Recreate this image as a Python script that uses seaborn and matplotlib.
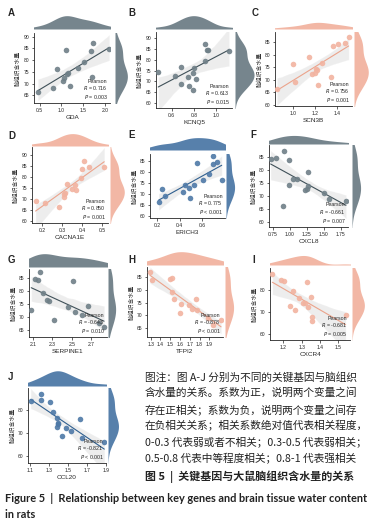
import matplotlib
matplotlib.use('Agg')
import matplotlib.pyplot as plt
import seaborn as sns

W, H = 383, 526

GRAY = '#6f7f87'
SALMON = '#f2b3a0'
BLUE = '#4e79a7'

# gene expression (x) vs brain tissue water content (y)
gda_x = [0.46, 0.81, 0.89, 1.04, 1.06, 1.10, 1.14, 1.16, 1.19, 1.39, 1.51, 1.68, 1.72, 1.70, 2.10]
gda_y = [66.2, 68.0, 76.3, 71.0, 72.2, 84.2, 73.9, 74.3, 68.9, 76.6, 79.3, 83.7, 87.2, 72.6, 84.6]

kcnq5_x = [0.48, 0.63, 0.683, 0.683, 0.748, 0.757, 0.787, 0.80, 0.793, 0.816, 0.896, 0.896, 0.92, 0.926, 1.113]
kcnq5_y = [74.3, 72.6, 76.6, 68.9, 72.2, 68.0, 73.9, 76.3, 66.2, 71.0, 87.2, 79.3, 84.2, 84.6, 83.7]

scn3b_x = [0.857, 1.0, 1.015, 1.149, 1.176, 1.20, 1.209, 1.215, 1.224, 1.26, 1.34, 1.364, 1.409, 1.469, 1.50]
scn3b_y = [66.2, 76.3, 68.9, 79.3, 72.2, 72.6, 74.3, 73.9, 68.0, 76.6, 71.0, 83.7, 84.2, 84.6, 87.2]

cacna1e_x = [0.168, 0.213, 0.285, 0.31, 0.312, 0.313, 0.324, 0.351, 0.367, 0.372, 0.396, 0.40, 0.409, 0.436, 0.511]
cacna1e_y = [68.9, 68.0, 66.2, 72.2, 71.0, 72.6, 76.6, 74.3, 76.3, 73.9, 79.3, 83.7, 87.2, 84.2, 84.6]

erich3_x = [0.215, 0.245, 0.27, 0.426, 0.45, 0.48, 0.49, 0.53, 0.552, 0.606, 0.657, 0.69, 0.696, 0.732, 0.771]
erich3_y = [66.2, 72.2, 68.9, 71.0, 73.9, 72.6, 68.0, 74.3, 84.2, 76.6, 79.3, 83.7, 87.2, 84.6, 76.3]

cxcl8_x = [0.72, 0.80, 0.917, 0.897, 0.99, 0.99, 1.054, 1.11, 1.225, 1.26, 1.265, 1.265, 1.505, 1.58, 1.83]
cxcl8_y = [84.2, 84.6, 87.2, 66.2, 83.7, 74.3, 76.6, 76.3, 72.2, 72.6, 73.9, 79.3, 71.0, 68.9, 68.0]

serpine1_x = [2.083, 2.124, 2.152, 2.176, 2.203, 2.245, 2.262, 2.314, 2.462, 2.507, 2.531, 2.60, 2.669, 2.779, 2.83]
serpine1_y = [72.6, 84.6, 84.2, 87.2, 79.3, 76.6, 76.3, 68.9, 73.9, 83.7, 72.2, 71.0, 74.3, 68.0, 66.2]

tfpi2_x = [1.293, 1.31, 1.503, 1.514, 1.52, 1.54, 1.605, 1.608, 1.69, 1.727, 1.761, 1.77, 1.886, 1.937, 2.02]
tfpi2_y = [87.2, 83.7, 84.2, 84.6, 79.3, 76.6, 71.0, 74.3, 73.9, 72.6, 76.3, 72.2, 68.9, 66.2, 68.0]

cxcr4_x = [1.14, 1.187, 1.205, 1.25, 1.236, 1.264, 1.287, 1.305, 1.318, 1.33, 1.336, 1.35, 1.355, 1.358, 1.54]
cxcr4_y = [87.2, 84.6, 84.2, 79.3, 72.6, 71.0, 76.3, 74.3, 73.9, 83.7, 72.2, 76.6, 68.0, 66.2, 68.9]

ccl20_x = [1.11, 1.223, 1.216, 1.31, 1.346, 1.388, 1.398, 1.398, 1.391, 1.44, 1.479, 1.528, 1.626, 1.644, 1.882]
ccl20_y = [84.2, 87.2, 84.6, 83.7, 79.3, 76.6, 74.3, 73.9, 72.6, 68.9, 72.2, 71.0, 76.3, 68.0, 66.2]

genes = ['GDA', 'KCNQ5', 'SCN3B', 'CACNA1E', 'ERICH3', 'CXCL8', 'SERPINE1', 'TFPI2', 'CXCR4', 'CCL20']
r_values = ['0.716', '0.613', '0.756', '0.850', '0.775', '-0.661', '-0.643', '-0.878', '-0.681', '-0.821']
p_values = ['= 0.003', '= 0.015', '= 0.001', '= 0.001', '< 0.001', '= 0.007', '= 0.010', '< 0.001', '= 0.005', '< 0.001']
xs = [gda_x, kcnq5_x, scn3b_x, cacna1e_x, erich3_x, cxcl8_x, serpine1_x, tfpi2_x, cxcr4_x, ccl20_x]
ys = [gda_y, kcnq5_y, scn3b_y, cacna1e_y, erich3_y, cxcl8_y, serpine1_y, tfpi2_y, cxcr4_y, ccl20_y]
colors = [GRAY, GRAY, SALMON, SALMON, BLUE, GRAY, GRAY, SALMON, SALMON, BLUE]
line_colors = {GRAY: '#3f5058', SALMON: '#eba38b', BLUE: '#2f5f8f'}

# layout in pixels: main (l, t, r, b), top marginal (t, b), right marginal (l, r), letter (x, y)
layout = [
    dict(main=(34, 33, 110, 103), top=(15, 29), right=(115, 128), letter=(8, 13),
         xlim=(0.37, 2.12), ylim=(61.7, 91.5), xticks=[0.5, 1.0, 1.5, 2.0], yticks=[65, 70, 75, 80, 85, 90]),
    dict(main=(156, 32, 232, 108), top=(15, 29), right=(235, 255), letter=(128, 13),
         xlim=(0.46, 1.14), ylim=(57.9, 92.6), xticks=[0.6, 0.8, 1.0], yticks=[60, 65, 70, 75, 80, 85, 90]),
    dict(main=(275, 32, 352, 106), top=(22, 29), right=(354, 369), letter=(252, 13),
         xlim=(0.84, 1.53), ylim=(59.4, 89.2), xticks=[1.0, 1.2, 1.4], yticks=[60, 65, 70, 75, 80, 85]),
    dict(main=(32, 147, 108, 223), top=(133, 146), right=(110, 125), letter=(8, 136),
         xlim=(0.15, 0.53), ylim=(59.0, 93.5), xticks=[0.2, 0.3, 0.4, 0.5], yticks=[60, 65, 70, 75, 80, 85, 90]),
    dict(main=(150, 154, 225, 218), top=(137, 150), right=(226, 235), letter=(128, 135),
         xlim=(0.14, 0.80), ylim=(59.0, 88.3), xticks=[0.2, 0.4, 0.6], yticks=[60, 65, 70, 75, 80, 85]),
    dict(main=(269, 145, 348, 227), top=(135, 144), right=(352, 361), letter=(250, 135),
         xlim=(0.696, 1.86), ylim=(58.2, 89.4), xticks=[0.75, 1.0, 1.25, 1.5, 1.75], yticks=[60, 65, 70, 75, 80, 85]),
    dict(main=(29, 269, 107, 337), top=(253, 267), right=(108, 116), letter=(8, 260),
         xlim=(2.06, 2.86), ylim=(62.5, 88.4), xticks=[2.1, 2.3, 2.5, 2.7], yticks=[65, 70, 75, 80, 85]),
    dict(main=(147, 267, 223, 337), top=(251, 265), right=(225, 234), letter=(128, 260),
         xlim=(1.263, 2.04), ylim=(61.5, 89.0), xticks=[1.3, 1.4, 1.5, 1.6, 1.7, 1.8, 1.9], yticks=[65, 70, 75, 80, 85]),
    dict(main=(270, 268, 350, 340), top=(255, 265), right=(352, 365), letter=(252, 260),
         xlim=(1.127, 1.564), ylim=(57.4, 89.9), xticks=[1.2, 1.3, 1.4, 1.5], yticks=[60, 70, 80]),
    dict(main=(28, 388, 106, 463), top=(370, 386), right=(108, 119), letter=(8, 377),
         xlim=(1.082, 1.90), ylim=(57.0, 89.8), xticks=[1.1, 1.3, 1.5, 1.7, 1.9], yticks=[60, 70, 80]),
]

sns.set_style('ticks')
plt.rcParams['font.family'] = ['Liberation Sans', 'Noto Sans CJK SC']
plt.rcParams['axes.linewidth'] = 0.6
plt.rcParams['xtick.major.width'] = 0.5
plt.rcParams['ytick.major.width'] = 0.5
plt.rcParams['xtick.major.size'] = 1.8
plt.rcParams['ytick.major.size'] = 1.8
plt.rcParams['xtick.major.pad'] = 1.5
plt.rcParams['ytick.major.pad'] = 1.5


def px_box(l, t, r, b):
    return [l / W, 1 - b / H, (r - l) / W, (b - t) / H]


fig = plt.figure(figsize=(W / 100, H / 100), dpi=100)

for i, lay in enumerate(layout):
    x, y, c = xs[i], ys[i], colors[i]
    l, t, r, b = lay['main']
    ax = fig.add_axes(px_box(l, t, r, b))
    ax_top = fig.add_axes(px_box(l, lay['top'][0], r, lay['top'][1]), sharex=ax)
    ax_right = fig.add_axes(px_box(lay['right'][0], t, lay['right'][1], b), sharey=ax)

    # grey confidence band, then coloured fit line, then points
    sns.regplot(x=x, y=y, ax=ax, scatter=False, color='#8a8a8a', line_kws={'lw': 0})
    sns.regplot(x=x, y=y, ax=ax, scatter=False, ci=None, line_kws={'color': line_colors[c], 'lw': 0.8})
    sns.scatterplot(x=x, y=y, ax=ax, color=c, s=16, alpha=0.9, linewidth=0, zorder=3)
    ax.set_xlim(*lay['xlim'])
    ax.set_ylim(*lay['ylim'])
    ax.set_xticks(lay['xticks'])
    ax.set_yticks(lay['yticks'])
    ax.tick_params(labelsize=3.6, colors='#222222')
    ax.set_xlabel(genes[i], fontsize=4.6, labelpad=2)
    ax.set_ylabel('脑组织含水量', fontsize=4.2, labelpad=2, color='#333333')
    sns.despine(ax=ax)
    ax.text(0.97, 0.03, f'Pearson\n$R$ = {r_values[i]}\n$P$ {p_values[i]}',
            transform=ax.transAxes, ha='right', va='bottom', fontsize=3.8, linespacing=1.1)

    sns.kdeplot(x=x, ax=ax_top, fill=True, color=c, alpha=0.95, linewidth=0)
    sns.kdeplot(y=y, ax=ax_right, fill=True, color=c, alpha=0.95, linewidth=0)
    ax_top.set_ylim(bottom=0)
    ax_right.set_xlim(left=0)
    ax_top.margins(y=0)
    ax_right.margins(x=0)
    ax_top.axis('off')
    ax_right.axis('off')

    fig.text(lay['letter'][0] / W, 1 - lay['letter'][1] / H, 'ABCDEFGHIJ'[i],
             fontsize=7, fontweight='bold', va='center', ha='left')

caption_lines = [
    '图注：图 A-J 分别为不同的关键基因与脑组织',
    '含水量的关系。系数为正，说明两个变量之间',
    '存在正相关；系数为负，说明两个变量之间存',
    '在负相关关系；相关系数绝对值代表相关程度，',
    '0-0.3 代表弱或者不相关；0.3-0.5 代表弱相关；',
    '0.5-0.8 代表中等程度相关；0.8-1 代表强相关',
]
caption_y = [377, 393, 410, 426, 442, 459]
for line, yy in zip(caption_lines, caption_y):
    fig.text(145 / W, 1 - yy / H, line, fontsize=7.7, va='center', ha='left',
             color='#222222', family=['Noto Sans CJK SC', 'DejaVu Sans'])

fig.text(145 / W, 1 - 477 / H, '图 5  |  关键基因与大鼠脑组织含水量的关系', fontsize=7.9,
         fontweight='bold', va='center', ha='left', color='#222222',
         family=['Noto Sans CJK SC', 'DejaVu Sans'])
fig.text(5 / W, 1 - 498 / H, 'Figure 5  |  Relationship between key genes and brain tissue water content',
         fontsize=7.9, fontweight='bold', va='center', ha='left', color='#222222', family='Lato')
fig.text(5 / W, 1 - 515 / H, 'in rats', fontsize=7.9, fontweight='bold', va='center', ha='left',
         color='#222222', family='Lato')

fig.savefig('out.png', dpi=100)
plt.close()
